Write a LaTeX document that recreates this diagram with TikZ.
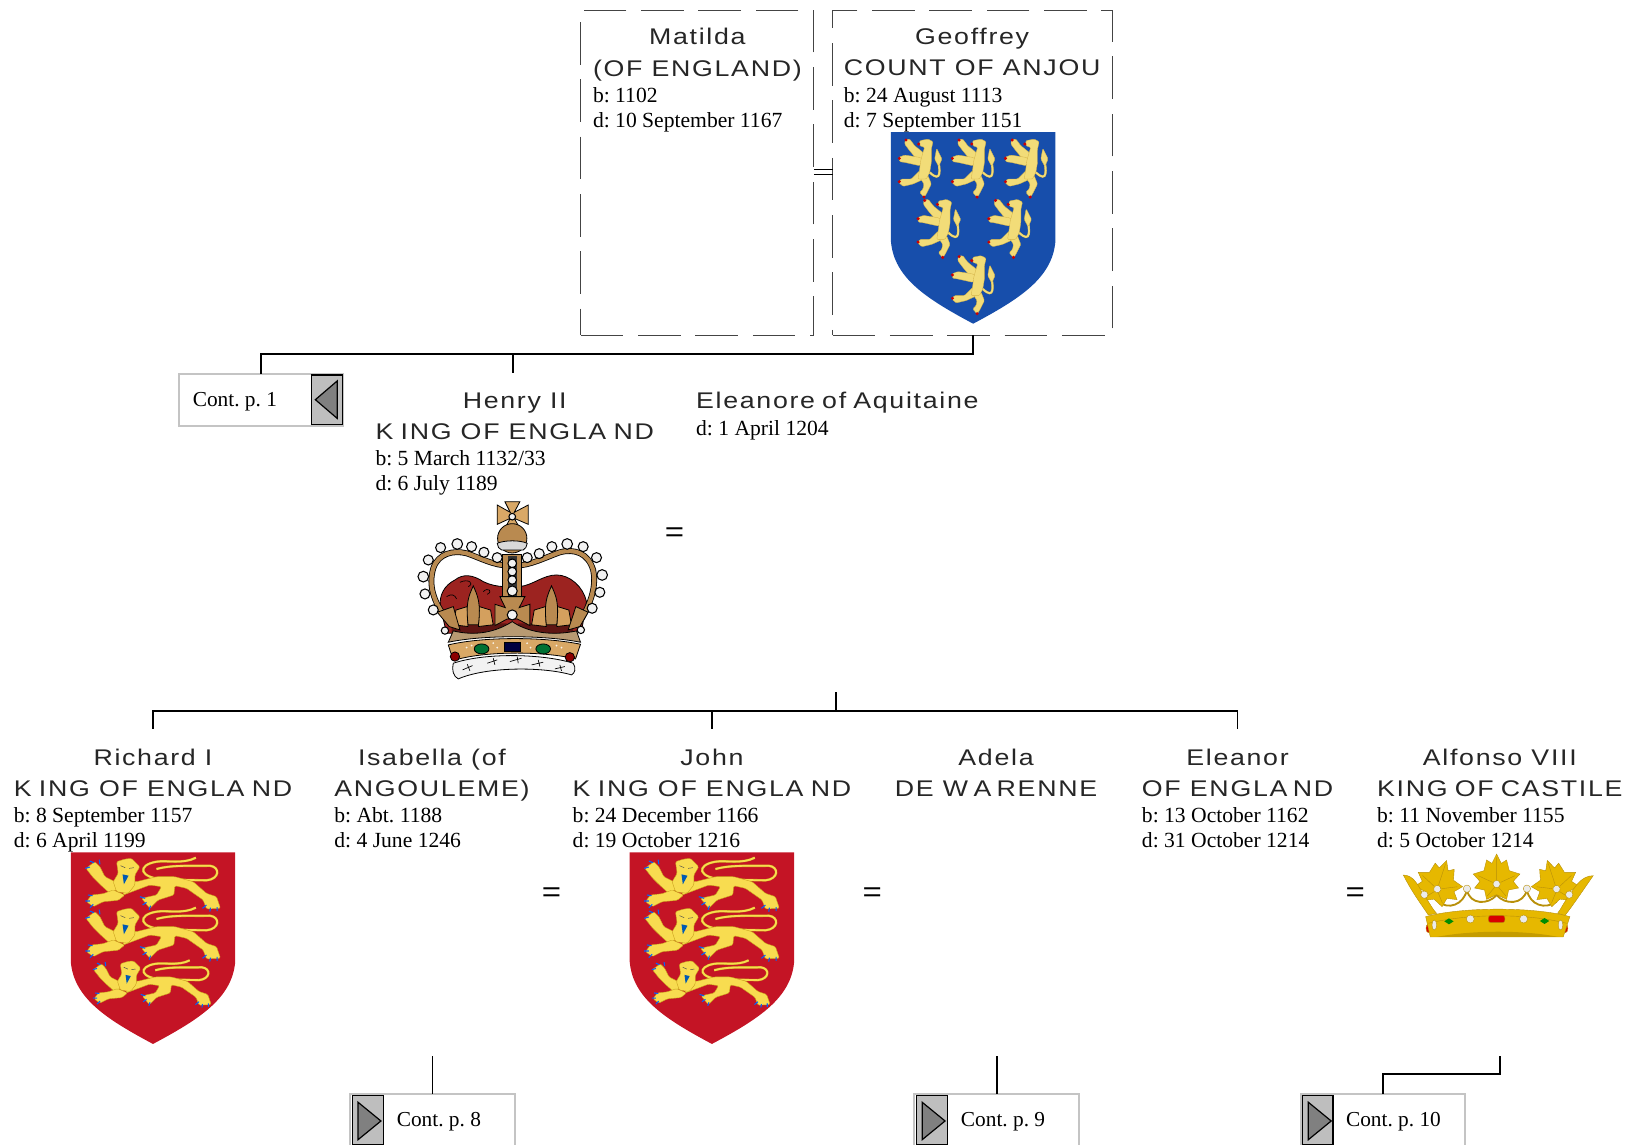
\documentclass[tikz,border=0pt]{standalone}
\usepackage{fontspec}
\setmainfont{Liberation Serif}
\newfontfamily\namefont[FakeStretch=1.18,LetterSpace=7.5]{Liberation Sans}
\frenchspacing
\definecolor{boxgray}{HTML}{C4C4C4}
\definecolor{btngray}{HTML}{BEBEBE}
\definecolor{trigray}{HTML}{808080}
\definecolor{dashgray}{HTML}{444444}
\definecolor{shieldred}{HTML}{C41425}
\definecolor{shieldblue}{HTML}{174EAB}
\definecolor{liongold}{HTML}{F8DC50}
\definecolor{lionedge}{HTML}{C9A01C}
\definecolor{lionpale}{HTML}{F2DC78}
\definecolor{crowntan}{HTML}{B98A50}
\definecolor{crownlight}{HTML}{D9A866}
\definecolor{crownrim}{HTML}{B89A72}
\definecolor{velvet}{HTML}{9C2320}
\definecolor{castgold}{HTML}{E6B800}
\definecolor{castedge}{HTML}{B8900A}
\tikzset{
  bond/.style={draw=black,line width=1.4pt},
  familybox/.style={draw=dashgray,line width=.7pt,dash pattern=on 32pt off 11pt,inner sep=0pt,outer sep=0pt,minimum height=243.5pt},
  persontext/.style={align=center,inner sep=0pt,font=\namefont\fontsize{17}{23.4}\selectfont,text=black!85,
    execute at begin node=\strut,execute at end node=\strut},
  datestext/.style={align=left,inner sep=0pt,font=\fontsize{16.2}{18.7}\selectfont,yshift=-1.2pt,
    execute at begin node=\strut,execute at end node=\strut,anchor=north west},
  equalsign/.style={inner sep=0pt,font=\namefont\fontsize{21}{21}\selectfont},
  contbox/.style={draw=boxgray,line width=1.5pt,inner sep=0pt,outer sep=0pt,minimum width=123.3pt,minimum height=39pt},
  contbtn/.style={draw=black,line width=.8pt,fill=btngray,inner sep=0pt,minimum width=23pt,minimum height=37pt},
  conttext/.style={inner sep=0pt,anchor=west,font=\fontsize{16}{18.7}\selectfont},
  conttri/.style={draw=black,fill=trigray,line width=.9pt,line join=miter},
  lionfill/.style={fill=liongold,draw=lionedge,line width=.3pt,rounded corners=1pt},
  paleline/.style={fill=lionpale,draw=lionedge!80,line width=.25pt,rounded corners=.8pt},
  crownline/.style={draw=black,line width=.6pt},
  pearl/.style={draw=black,fill=white!95!black,line width=.8pt},
  castline/.style={draw=castedge,fill=castgold,line width=.3pt},
  pics/lion passant/.style={code={
    \draw[double=liongold,double distance=1.3pt,draw=lionedge,line width=.25pt]
      (320,104) .. controls (235,100) and (230,60) .. (290,50) .. controls (320,45) and (370,58) .. (408,38);
    \draw[double=liongold,double distance=1.3pt,draw=lionedge,line width=.25pt]
      (290,72) .. controls (340,58) and (400,64) .. (450,62) .. controls (482,66) and (480,102) .. (440,106) -- (340,104);
    \draw[lionfill] (78,70) -- (105,50) -- (120,65) -- (135,95) -- (165,110) -- (178,130) -- (150,145) -- (120,118) -- (100,98) -- cycle;
    \draw[lionfill] (80,170) -- (95,150) -- (130,146) -- (160,135) -- (195,150) -- (175,166) -- (130,170) -- (100,185) -- cycle;
    \draw[lionfill] (190,105) -- (230,110) -- (290,95) -- (345,95) -- (400,110) -- (440,145) -- (470,155) -- (482,190) -- (440,192) -- (430,165)
      -- (380,130) -- (345,122) -- (342,150) -- (295,165) -- (270,190) -- (245,160) -- (290,150) -- (305,125) -- (270,120) -- (230,135) -- (190,150) -- cycle;
    \draw[lionfill] (170,50) -- (195,42) -- (215,40) -- (240,65) -- (225,90) -- (225,120) -- (205,145) -- (170,140) -- (160,110) -- (175,85) -- cycle;
    \fill[blue!50!cyan!70!black] (188,88) -- (206,92) -- (192,118) -- cycle;
    \draw[black!70,line width=.35pt] (182,62) -- (196,68) (208,70) -- (222,68);
    \draw[blue!60!cyan,line width=.8pt] (90,48) -- (102,53) (118,44) -- (120,58) (76,70) -- (90,66)
      (84,150) -- (98,152) (76,168) -- (90,168) (90,188) -- (100,178)
      (240,155) -- (256,160) (248,180) -- (260,172) (268,194) -- (272,182)
      (428,190) -- (440,180) (450,200) -- (452,188) (472,198) -- (472,186);
  }},
  pics/lion rampant/.style={code={
    \draw[double=lionpale,double distance=1.2pt,draw=lionedge!80,line width=.25pt]
      (135,130) .. controls (172,165) and (166,120) .. (160,90);
    \draw[paleline] (156,58) -- (172,90) -- (162,112) -- (150,90) -- cycle;
    \draw[paleline] (62,32) -- (75,30) -- (90,50) -- (115,70) -- (122,90) -- (100,95) -- (75,65) -- (60,45) -- cycle;
    \draw[paleline] (42,85) -- (60,78) -- (105,85) -- (122,95) -- (105,110) -- (60,100) -- (45,98) -- cycle;
    \draw[paleline] (105,125) -- (118,150) -- (85,165) -- (55,172) -- (42,160) -- (50,150) -- (80,150) -- cycle;
    \draw[paleline] (105,145) -- (130,140) -- (140,165) -- (125,195) -- (118,205) -- (105,190) -- (115,180) -- (118,165) -- cycle;
    \draw[paleline] (105,35) -- (130,30) -- (145,38) -- (140,60) -- (140,100) -- (135,130) -- (125,150) -- (100,150) -- (105,120) -- (108,95) -- (115,70) -- (120,55) -- (105,50) -- cycle;
    \fill[red!80!black] (102,45) circle (5) (64,33) circle (5) (44,88) circle (5) (44,158) circle (5) (118,204) circle (5);
  }},
  pics/arms england/.style={code={
    \fill[shieldred] (-79,0) -- (-79,105) .. controls (-76,140) and (-45,160) .. (0,184) .. controls (45,160) and (76,140) .. (79,105) -- (79,0) -- cycle;
    \pic[scale=.32] at (-89.4,-7.1) {lion passant};
    \pic[scale=.32] at (-89.4,40.9) {lion passant};
    \pic[scale=.28] at (-79,93) {lion passant};
  }},
  pics/arms anjou/.style={code={
    \fill[shieldblue] (-79,0) -- (-79,105) .. controls (-76,140) and (-45,160) .. (0,184) .. controls (45,160) and (76,140) .. (79,105) -- (79,0) -- cycle;
    \pic[scale=.32] at (-85,-3) {lion rampant};
    \pic[scale=.32] at (-34,-3) {lion rampant};
    \pic[scale=.32] at (17,-3) {lion rampant};
    \pic[scale=.32] at (-67,55) {lion rampant};
    \pic[scale=.32] at (1,55) {lion rampant};
    \pic[scale=.32] at (-34,109) {lion rampant};
  }},
  pics/fleur/.style={code={
    \draw[crownline,fill=crownlight!80!brown] (-14,0) -- (-40,8) -- (-46,42) -- (-12,46) -- cycle;
    \draw[crownline,fill=crownlight!80!brown] (14,0) -- (40,8) -- (46,42) -- (12,46) -- cycle;
    \draw[crownline,fill=crowntan] (0,-48) .. controls (10,-25) and (18,-10) .. (12,42) -- (-12,42) .. controls (-18,-10) and (-10,-25) .. (0,-48) -- cycle;
  }},
  pics/crown edward/.style={code={
    \draw[crownline,fill=velvet] (92,340) .. controls (85,300) and (105,270) .. (135,255) .. controls (160,235) and (190,240) .. (220,260) .. controls (240,270) and (265,275) .. (285,275)
      -- (330,275) .. controls (370,270) and (400,240) .. (440,240) .. controls (480,240) and (520,275) .. (530,320) -- (515,410) -- (110,415) -- cycle;
    \fill[velvet!60!black] (125,385) rectangle (290,425) (325,385) rectangle (490,425);
    \draw[black,line width=.5pt] (150,262) .. controls (175,250) and (195,265) .. (175,275) (220,290) .. controls (235,275) and (250,290) .. (232,298) (110,305) .. controls (125,295) and (135,300) .. (140,312);
    \draw[black,line width=4.4pt] (110,372) .. controls (70,320) and (55,270) .. (70,220) .. controls (85,175) and (130,165) .. (170,175) .. controls (215,190) and (250,212) .. (300,212);
    \draw[crowntan,line width=3.2pt] (110,372) .. controls (70,320) and (55,270) .. (70,220) .. controls (85,175) and (130,165) .. (170,175) .. controls (215,190) and (250,212) .. (300,212);
    \draw[black,line width=4.4pt] (315,212) .. controls (360,212) and (400,190) .. (450,172) .. controls (495,160) and (535,175) .. (550,225) .. controls (560,270) and (545,320) .. (515,372);
    \draw[crowntan,line width=3.2pt] (315,212) .. controls (360,212) and (400,190) .. (450,172) .. controls (495,160) and (535,175) .. (550,225) .. controls (560,270) and (545,320) .. (515,372);
    \draw[crownline,fill=crowntan] (278,178) rectangle (336,320);
    \fill[black!80] (293,182) rectangle (321,318);
    \pic[transform shape,scale=1.3] at (190,335) {fleur};
    \pic[transform shape,scale=1.3] at (425,335) {fleur};
    \draw[crownline,fill=crownrim] (115,442) -- (130,408) .. controls (200,425) and (260,410) .. (307,380) .. controls (350,410) and (420,425) .. (500,408) -- (512,442) .. controls (400,420) and (220,420) .. (115,442) -- cycle;
    \draw[crownline,fill=crownlight] (115,450) .. controls (220,425) and (400,425) .. (512,448) -- (497,492) .. controls (400,468) and (220,468) .. (130,497) -- cycle;
    \draw[crownline,fill=crowntan] (270,305) -- (345,305) -- (328,338) -- (360,328) -- (360,392) -- (322,372) -- (292,372) -- (255,392) -- (255,328) -- (286,338) -- cycle;
    \draw[crownline,fill=crowntan] (82,352) -- (130,335) -- (150,405) -- (118,395) -- cycle;
    \draw[crownline,fill=crowntan] (535,352) -- (498,335) -- (475,405) -- (510,395) -- cycle;
    \draw[crownline,fill=green!30!black!80!cyan] (215,462) ellipse (22 and 15) (400,462) ellipse (22 and 15);
    \draw[crownline,fill=blue!25!black] (282,442) rectangle (332,468);
    \draw[crownline,fill=red!55!black] (135,485) circle (14) (480,487) circle (14);
    \fill[white!85!crownlight] (170,458) circle (3) (185,452) circle (3) (250,445) circle (3) (262,458) circle (3) (352,445) circle (3) (362,458) circle (3) (440,452) circle (3) (455,458) circle (3);
    \draw[crownline,fill=black!5] (130,505) .. controls (230,472) and (400,477) .. (490,505) .. controls (500,520) and (495,535) .. (485,540) .. controls (400,515) and (230,515) .. (145,552) .. controls (130,545) and (125,525) .. (130,505) -- cycle;
    \draw[black,line width=.5pt] (158,525) -- (188,512) (172,508) -- (180,528) (232,505) -- (262,495) (250,490) -- (255,510) (300,500) -- (335,490) (322,485) -- (325,505) (365,510) -- (400,502) (385,495) -- (390,515) (435,522) -- (465,515) (450,510) -- (455,528);
    \draw[crownline,fill=crownlight] (285,20) -- (330,20) -- (313,52) -- (355,30) -- (355,88) -- (313,70) -- (330,100) -- (285,100) -- (301,70) -- (262,88) -- (262,30) -- (301,52) -- cycle;
    \draw[crownline,fill=crowntan] (307,130) circle (44);
    \draw[crownline,fill=black!15] (262,145) .. controls (285,135) and (330,135) .. (352,145) .. controls (352,155) and (345,162) .. (340,165) -- (275,165) .. controls (268,162) and (262,155) .. (262,145) -- cycle;
    \draw[pearl] (307,65) circle (10) (307,205) circle (13) (307,230) circle (13) (307,255) circle (13) (307,288) circle (15) (307,360) circle (15);
    \draw[pearl] (55,195) circle (15) (40,245) circle (16) (45,297) circle (15) (70,345) circle (15) (92,158) circle (15) (142,147) circle (16) (185,155) circle (15) (222,172) circle (15) (262,188) circle (15)
      (352,188) circle (15) (388,176) circle (15) (426,155) circle (15) (472,147) circle (16) (520,155) circle (15) (560,188) circle (15) (577,240) circle (16) (570,292) circle (15) (547,340) circle (15) (105,407) circle (11) (513,405) circle (11);
  }},
  pics/castile leaf/.style={code={
    \draw[castline] (0,-90) -- (14,-62) -- (30,-72) -- (38,-40) -- (70,-30) -- (50,-8) -- (66,12) -- (36,18) -- (30,46) -- (0,32) -- (-30,46) -- (-36,18) -- (-66,12) -- (-50,-8) -- (-70,-30) -- (-38,-40) -- (-30,-72) -- (-14,-62) -- cycle;
    \draw[castedge,line width=.3pt] (0,-80) -- (0,-12) (-55,-25) -- (-12,-5) (55,-25) -- (12,-5) (-28,36) -- (-6,10) (28,36) -- (6,10);
    \draw[castedge,fill=black!8,line width=.3pt] (0,0) circle (11);
  }},
  pics/crown castile/.style={code={
    \draw[castline,line width=1.4pt,fill=none] (216,135) .. controls (225,180) and (280,180) .. (305,150) .. controls (330,180) and (385,180) .. (396,135);
    \draw[castline,line width=1.4pt,fill=none] (216,135) .. controls (205,180) and (160,195) .. (130,170);
    \draw[castline,line width=1.4pt,fill=none] (396,135) .. controls (405,180) and (450,195) .. (485,170);
    \pic[transform shape] at (305,117) {castile leaf};
    \pic[transform shape,rotate=-18] at (127,132) {castile leaf};
    \pic[transform shape,rotate=18] at (485,132) {castile leaf};
    \draw[castline] (25,90) .. controls (55,90) and (70,120) .. (85,150) .. controls (100,165) and (110,190) .. (125,205) -- (100,210) .. controls (80,180) and (50,140) .. (25,90) -- cycle;
    \draw[castline] (595,92) .. controls (560,92) and (540,125) .. (525,150) .. controls (510,165) and (500,190) .. (488,205) -- (510,212) .. controls (535,180) and (565,135) .. (595,92) -- cycle;
    \draw[castline,fill=red!85!black] (100,250) ellipse (7 and 13) (512,250) ellipse (7 and 13);
    \draw[castline] (106,276) -- (92,215) .. controls (200,185) and (420,185) .. (525,215) -- (505,276) -- cycle;
    \fill[castgold!85!black] (125,276) .. controls (230,255) and (390,255) .. (490,276) -- cycle;
    \draw[castedge,line width=.3pt] (100,235) .. controls (220,205) and (400,205) .. (515,235);
    \draw[castline,fill=black!8] (118,240) ellipse (7 and 15) (497,240) ellipse (7 and 15);
    \draw[castline,fill=red!85!black,rounded corners=2pt] (280,211) rectangle (330,233);
    \fill[green!55!black] (162,220) -- (176,229) -- (162,238) -- (148,229) -- cycle (449,219) -- (463,228) -- (449,237) -- (435,228) -- cycle;
    \draw[castline,fill=black!8] (226,222) circle (12) (386,222) circle (12) (216,131) circle (11) (396,131) circle (11) (88,149) circle (11) (523,149) circle (11);
  }},
}
\begin{document}
\begin{tikzpicture}[x=0.7806pt,y=-0.7806pt]
\useasboundingbox (0,0) rectangle (1568,1100);
%PARENTS
\node[familybox,minimum width=174.9pt] (matilda) at (670,166) {};
\node[familybox,minimum width=210pt] (geoffrey) at (934.5,166) {};
\draw[thin] ([yshift=2.6pt]matilda.east) -- ([yshift=2.6pt]geoffrey.west);
\draw[thin] ([yshift=-1pt]matilda.east) -- ([yshift=-1pt]geoffrey.west);
\pic at (935,127) {arms anjou};
\node[persontext,anchor=north] (matildaname) at (670,27) {Matilda\\(OF ENGLAND)};
\node[datestext] (matildadates) at (matildaname.south west) {b: 1102\\d: 10 September 1167};
\node[persontext,anchor=north] (geoffreyname) at (934,27) {Geoffrey\\COUNT OF ANJOU};
\node[datestext] (geoffreydates) at (geoffreyname.south west) {b: 24 August 1113\\d: 7 September 1151};

%HENRY AND ELEANORE
\node[contbox] (contA) at (251,384) {};
\node[conttext] (contAtext) at (185,385.5) {Cont. p. 1};
\node[contbtn] (contAbtn) at (314,384) {};
\draw[conttri] (303,384) -- (324,366) -- (324,402) -- cycle;
\coordinate (barA) at (493,340);
\coordinate (henrytop) at (493,358);
\draw[bond] (geoffrey.south) |- (barA) -| (contA.north);
\draw[bond] (barA) -- (henrytop);
\node[persontext,anchor=north] (henryname) at (494.5,377) {Henry II\\K\kern5.5pt ING OF ENGLA\kern5.5pt ND};
\node[datestext] (henrydates) at (henryname.south west) {b: 5 March 1132/33\\d: 6 July 1189};
\pic[scale=.32] at (393.9,475.6) {crown edward};
\node[equalsign] (eqhenry) at (648,514) {=};
\node[persontext,anchor=north] (eleanorename) at (804.5,371) {Eleanore\kern-1.5pt\ of\kern-1.5pt\ Aquitaine};
\node[datestext,yshift=1.2pt] (eleanoredates) at (eleanorename.south west) {d: 1 April 1204};

%CHILDREN
\coordinate (marriage) at (803,665);
\coordinate (barB) at (803,683);
\coordinate (richardtop) at (147,700);
\coordinate (johntop) at (684,700);
\coordinate (eleanortop) at (1189,700);
\draw[bond] (marriage) -- (barB);
\draw[bond] (barB) -| (richardtop);
\draw[bond] (barB) -| (eleanortop);
\draw[bond] (johntop) |- (barB);
\pic at (147,819) {arms england};
\pic at (684,819) {arms england};
\pic[scale=.32] at (1340.3,811.9) {crown castile};
\node[persontext,anchor=north] (richardname) at (147,719) {Richard I\\K\kern5.5pt ING OF ENGLA\kern5.5pt ND};
\node[datestext] (richarddates) at (richardname.south west) {b: 8 September 1157\\d: 6 April 1199};
\node[persontext,anchor=north] (isabellaname) at (415,719) {Isabella (of\\ANGOULEME)};
\node[datestext] (isabelladates) at (isabellaname.south west) {b: Abt. 1188\\d: 4 June 1246};
\node[persontext,anchor=north] (johnname) at (684,719) {John\\K\kern5.5pt ING OF ENGLA\kern5.5pt ND};
\node[datestext] (johndates) at (johnname.south west) {b: 24 December 1166\\d: 19 October 1216};
\node[persontext,anchor=north] (adelaname) at (957,719) {Adela\\DE W\kern4pt A\kern4pt RENNE};
\node[persontext,anchor=north] (eleanorname) at (1189,719) {Eleanor\\OF ENGLA\kern4pt ND};
\node[datestext] (eleanordates) at (eleanorname.south west) {b: 13 October 1162\\d: 31 October 1214};
\node[persontext,anchor=north] (alfonsoname) at (1441,719) {Alfonso VIII\\KING\kern-1.5pt\ OF\kern-1.5pt\ CASTILE};
\node[datestext] (alfonsodates) at (alfonsoname.south west) {b: 11 November 1155\\d: 5 October 1214};
\node[equalsign] (eqisabella) at (530,860) {=};
\node[equalsign] (eqadela) at (838,860) {=};
\node[equalsign] (eqalfonso) at (1302,860) {=};

%CONTINUATIONS
\node[contbox] (contB) at (415.5,1076) {};
\node[conttext] (contBtext) at (381,1077.5) {Cont. p. 8};
\node[contbtn] (contBbtn) at (353.5,1076) {};
\draw[conttri] (344,1059) -- (366,1077) -- (344,1095) -- cycle;
\node[contbox] (contC) at (957.5,1076) {};
\node[conttext] (contCtext) at (923,1077.5) {Cont. p. 9};
\node[contbtn] (contCbtn) at (895.5,1076) {};
\draw[conttri] (886,1059) -- (908,1077) -- (886,1095) -- cycle;
\node[contbox] (contD) at (1328.5,1076) {};
\node[conttext] (contDtext) at (1293,1077.5) {Cont. p. 10};
\node[contbtn] (contDbtn) at (1266,1076) {};
\draw[conttri] (1257,1059) -- (1279,1077) -- (1257,1095) -- cycle;
\coordinate (isabelladown) at (415.5,1015);
\coordinate (adeladown) at (957.5,1015);
\coordinate (alfonsodown) at (1441,1015);
\coordinate (barD) at (1441,1032);
\draw[bond] (isabelladown) -- (contB.north);
\draw[bond] (adeladown) -- (contC.north);
\draw[bond] (alfonsodown) -- (barD) -| (contD.north);
\end{tikzpicture}
\end{document}
